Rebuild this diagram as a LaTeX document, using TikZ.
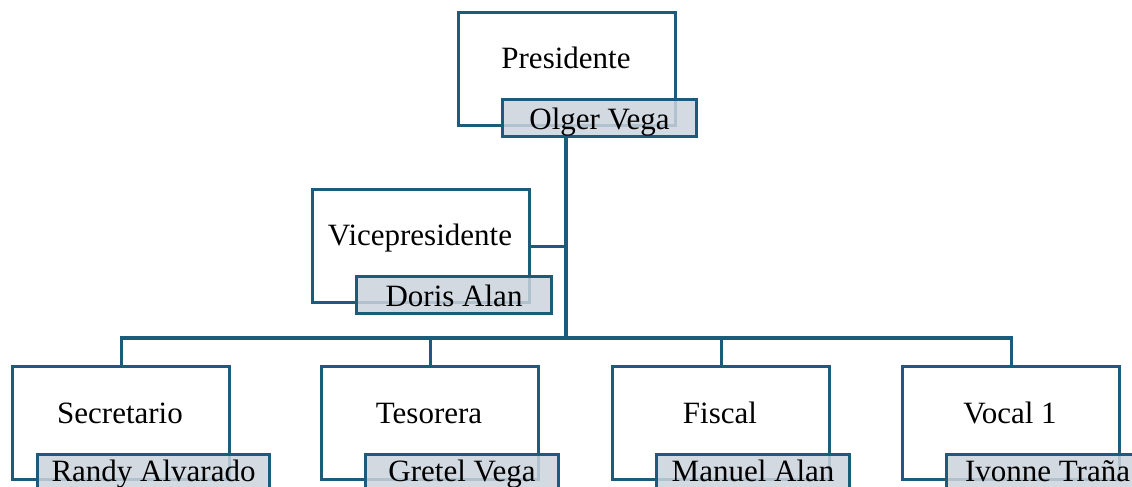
\documentclass[tikz,border=0pt]{standalone}
\usepackage{fontspec}
\setmainfont{Liberation Serif}
\definecolor{edge}{RGB}{28,92,122}
\definecolor{namefill}{RGB}{204,211,220}
\begin{document}
\begin{tikzpicture}[x=1pt,y=-1pt,
  rolebox/.style={draw=edge,line width=3.1pt,fill=white,minimum width=217pt,minimum height=113pt,anchor=north west,inner sep=0pt},
  roletext/.style={font=\fontsize{31}{31}\selectfont,inner sep=0pt,anchor=base},
  namebox/.style={draw=edge,line width=3.1pt,fill=namefill,fill opacity=0.85,text opacity=1,text height=30pt,text depth=7pt,anchor=north west,inner sep=0pt,font=\fontsize{31}{31}\selectfont},
  lownamebox/.style={namebox,text height=27pt,text depth=10pt},
  link/.style={draw=edge,line width=3.1pt}]
\useasboundingbox (0,0) rectangle (1132,487);
\clip (0,0) rectangle (1132,487);
% role boxes
\node[rolebox] (pres) at (457,11) {};
\node[rolebox] (vice) at (311,188) {};
\node[rolebox] (sec) at (11,365) {};
\node[rolebox] (tes) at (320,365) {};
\node[rolebox] (fis) at (611,365) {};
\node[rolebox] (voc) at (901,365) {};
% role texts
\node[roletext] (presT) at (566,69) {Presidente};
\node[roletext] (viceT) at (420,245) {Vicepresidente};
\node[roletext] (secT) at (120,423) {Secretario};
\node[roletext] (tesT) at (429,423) {Tesorera};
\node[roletext] (fisT) at (720,423) {Fiscal};
\node[roletext] (vocT) at (1010,423) {Vocal 1};
% connectors
\coordinate (hub) at (566,338);
\coordinate (pbot) at (566,135);
\draw[link] (pbot) -- (hub);
\draw[link] (vice.east) -- (vice.east -| hub);
\draw[link] (sec.north) |- (hub);
\draw[link] (voc.north) |- (hub);
\draw[link] (tes.north) -- (tes.north |- hub);
\draw[link] (fis.north) -- (fis.north |- hub);
% name boxes
\node[namebox,minimum width=194pt] (presN) at (501,98) {Olger Vega};
\node[namebox,minimum width=195pt] (viceN) at (355,275) {Doris Alan};
\node[lownamebox,minimum width=232pt] (secN) at (36,453) {Randy Alvarado};
\node[lownamebox,minimum width=193pt] (tesN) at (364,453) {Gretel Vega};
\node[lownamebox,minimum width=193pt] (fisN) at (655,453) {Manuel Alan};
\node[lownamebox,minimum width=215pt] (vocN) at (945,453) {Ivonne Traña\rule{13pt}{0pt}};
\end{tikzpicture}
\end{document}
